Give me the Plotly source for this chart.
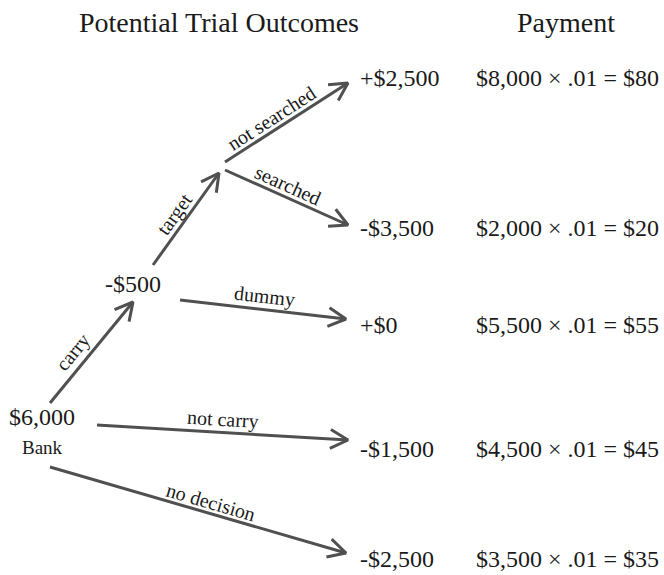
import numpy as np
import plotly.graph_objects as go

# ---------------- data ----------------
headers = ["Potential Trial Outcomes", "Payment"]
root_value = "$6,000"
root_name = "Bank"
mid_value = "-$500"
outcomes = ["+$2,500", "-$3,500", "+$0", "-$1,500", "-$2,500"]
payments = ["$8,000 × .01 = $80", "$2,000 × .01 = $20", "$5,500 × .01 = $55",
            "$4,500 × .01 = $45", "$3,500 × .01 = $35"]
edge_names = ["carry", "target", "not searched", "searched", "dummy", "not carry", "no decision"]

# ---------------- layout (pixel space) ----------------
W, H = 664, 575
FONT = "Liberation Serif, Times New Roman, serif"
INK = "#1a1a1a"
ARROW = "#505050"

row_y = [78, 228, 325, 449, 559]
outcome_x = 358
payment_x = 474
header_pos = [(219, 22), (566, 22)]

# edges: start, tip, label perpendicular offset, label shift along the edge
edges = [
    ((50, 403), (133, 302), 14, -12),
    ((153, 265), (219, 173), 12, -3),
    ((225, 162), (348, 83), 12, -10),
    ((225, 170), (348, 225), 12, -4),
    ((180, 300), (346, 319), 13, 0),
    ((97, 425), (348, 440), 13, 0),
    ((50, 467), (346, 553), 11, 10),
]

fig = go.Figure()
annotations = []


def add_text(x, y, text, size, xanchor="center", angle=0):
    annotations.append(dict(x=x, y=y, xref="x", yref="y", text=text, showarrow=False,
                            xanchor=xanchor, yanchor="middle", textangle=angle,
                            font=dict(family=FONT, size=size, color=INK)))


for (x0, y0), (x1, y1), off, shift in edges:
    d = np.array([x1 - x0, y1 - y0], dtype=float)
    u = d / np.hypot(*d)
    back = -u
    barbs = []
    for a in (np.radians(28), -np.radians(28)):
        r = np.array([[np.cos(a), -np.sin(a)], [np.sin(a), np.cos(a)]])
        barbs.append(np.array([x1, y1]) + 20 * (r @ back))
    xs = [x0, x1, None, barbs[0][0], x1, barbs[1][0]]
    ys = [y0, y1, None, barbs[0][1], y1, barbs[1][1]]
    fig.add_trace(go.Scatter(x=xs, y=ys, mode="lines",
                             line=dict(color=ARROW, width=3),
                             hoverinfo="skip", showlegend=False))

for i, ((x0, y0), (x1, y1), off, shift) in enumerate(edges):
    d = np.array([x1 - x0, y1 - y0], dtype=float)
    u = d / np.hypot(*d)
    n = np.array([u[1], -u[0]])  # perpendicular, pointing up on screen
    mx, my = (x0 + x1) / 2, (y0 + y1) / 2
    ang = np.degrees(np.arctan2(d[1], d[0]))
    add_text(mx + n[0] * off + u[0] * shift, my + n[1] * off + u[1] * shift,
             edge_names[i], 20, angle=ang)

add_text(header_pos[0][0], header_pos[0][1], headers[0], 28)
add_text(header_pos[1][0], header_pos[1][1], headers[1], 28)
add_text(42, 417, root_value, 24)
add_text(42, 447, root_name, 19)
add_text(133, 284, mid_value, 24)

for y, o, p in zip(row_y, outcomes, payments):
    add_text(outcome_x, y, o, 24, xanchor="left")
    add_text(payment_x, y, p, 24, xanchor="left")

fig.update_layout(
    width=W, height=H,
    margin=dict(l=0, r=0, t=0, b=0),
    paper_bgcolor="white", plot_bgcolor="white",
    xaxis=dict(range=[0, W], visible=False, fixedrange=True),
    yaxis=dict(range=[H, 0], visible=False, fixedrange=True),
    annotations=annotations,
    showlegend=False,
)

fig.write_html("out.html", config={"displayModeBar": False},
               post_script="document.body.style.margin='0';document.body.style.overflow='hidden';")
